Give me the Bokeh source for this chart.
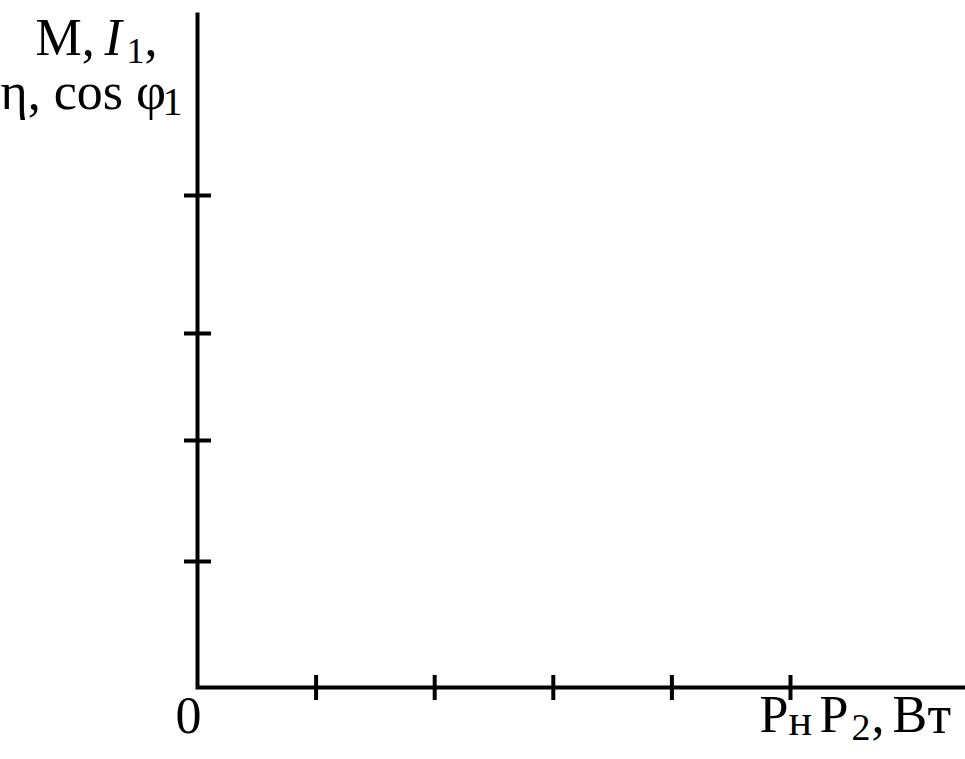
import math
from bokeh.plotting import figure
from bokeh.models import Range1d
from bokeh.core.properties import value
from bokeh.embed import file_html
from bokeh.resources import INLINE

# ---- data ----
x_ticks = [1, 2, 3, 4, 5]            # P2 scale, last tick = P_н
y_ticks = [1.26, 2.47, 3.54, 4.92]   # M, I1, η, cos φ1 scale
x_axis_end = 6.6
y_axis_end = 6.75

FONT = "Liberation Serif"
W, H = 965, 759
ux, uy = 118.6, 100.0          # px per data unit
ox, oy = 197, 687              # origin in canvas px

p = figure(width=W, height=H, output_backend="svg", toolbar_location=None,
           x_axis_type=None, y_axis_type=None, min_border=0,
           x_range=Range1d(-ox / ux, (W - ox) / ux),
           y_range=Range1d(-(H - oy) / uy, oy / uy))
p.outline_line_color = None
p.grid.visible = False
p.background_fill_color = "white"
p.border_fill_color = "white"

# axes
p.line([0, 0, x_axis_end], [y_axis_end, 0, 0], line_color="black",
       line_width=4, line_join="miter")
# ticks
p.scatter(x_ticks, [0] * len(x_ticks), marker="dash", size=25, angle=math.pi / 2,
          line_color="black", line_width=4)
p.scatter([0] * len(y_ticks), y_ticks, marker="dash", size=27,
          line_color="black", line_width=4)


def txt(x, y, s, dx, dy, size=52, style="normal"):
    p.text(x=[x], y=[y], text=[s], x_offset=dx, y_offset=dy,
           text_font=value(FONT), text_font_size=f"{size}px",
           text_font_style=style, text_color="black",
           text_align="left", text_baseline="alphabetic")


# origin label
txt(0, 0, "0", -22, 28)

# x label at the last tick
xa = x_ticks[-1]
txt(xa, 0, "P", -31, 27)
txt(xa, 0, "н", -2, 33, size=44)
txt(xa, 0, "P", 29, 27)
txt(xa, 0, "2", 61, 40, size=38)
txt(xa, 0, ",", 81, 27)
txt(xa, 0, "В", 102, 27)
txt(xa, 0, "т", 137, 27, size=54)

# y label at the top of the axis
ya = y_axis_end
txt(0, ya, "M,", -162, 25)
txt(0, ya, "I", -93, 25, style="italic")
txt(0, ya, "1", -71, 38, size=36)
txt(0, ya, ",", -53, 25)
txt(0, ya, "η, cos φ", -197, 79)
txt(0, ya, "1", -35, 89, size=40)

open("out.html", "w").write(file_html(p, INLINE))
